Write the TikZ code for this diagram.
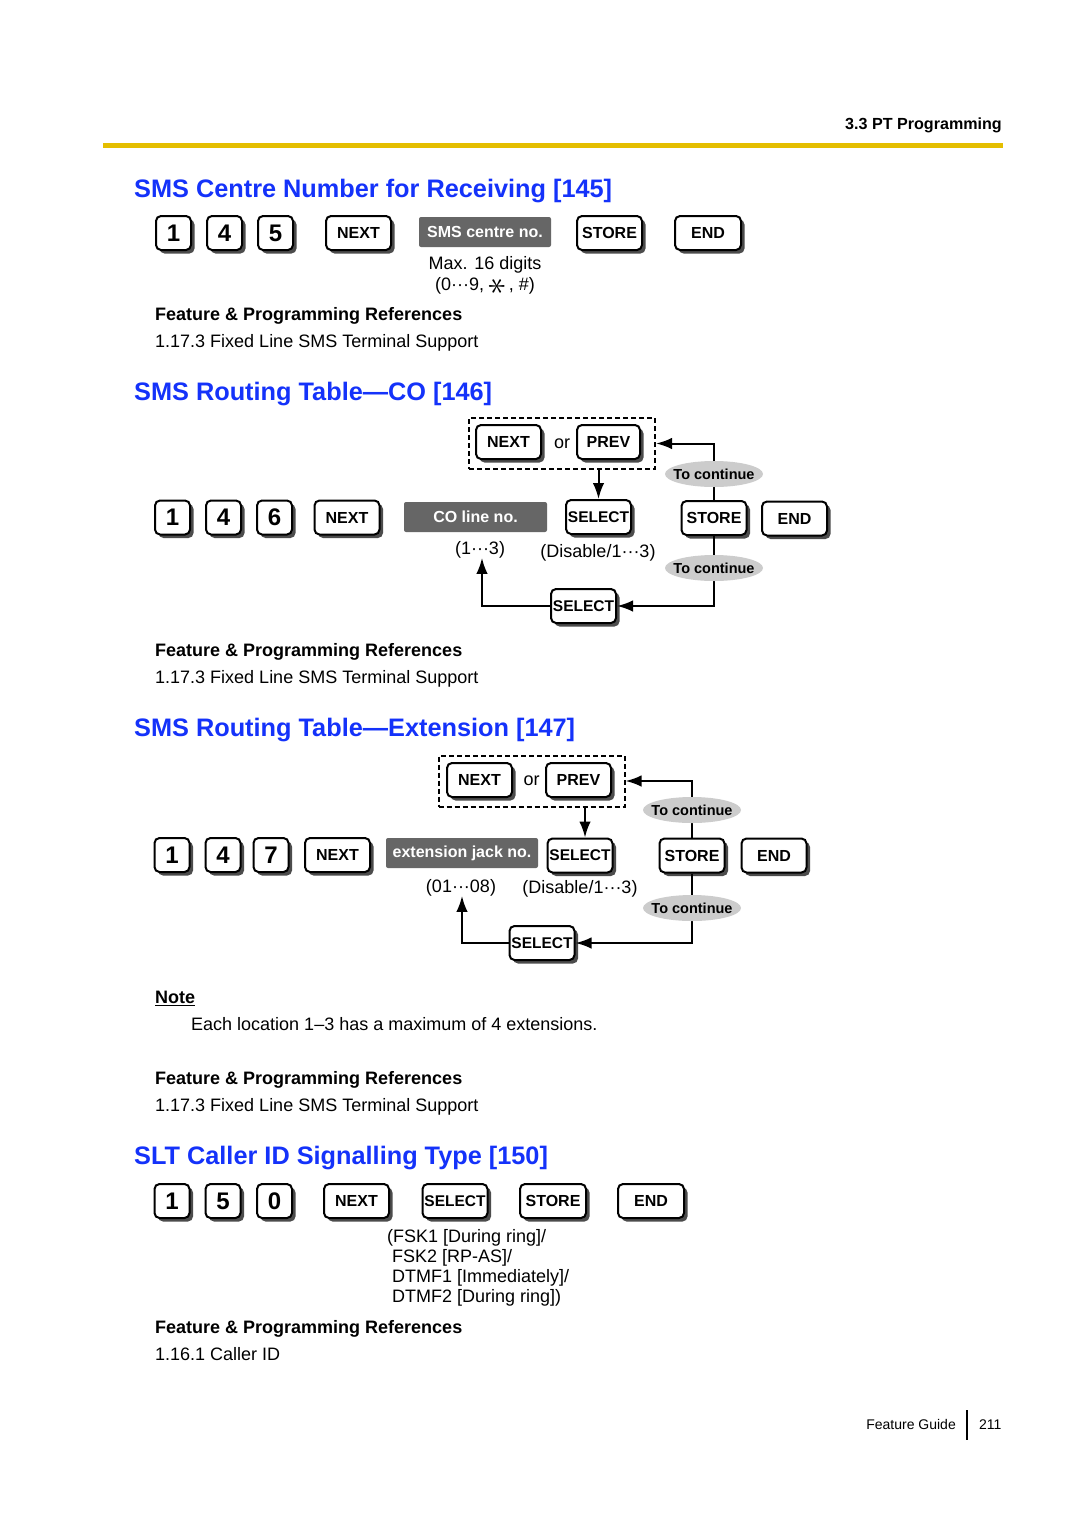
\documentclass[tikz,border=0pt]{standalone}
\usepackage{fontspec}
\setmainfont{Liberation Sans}
\usetikzlibrary{arrows.meta, shapes.geometric, shadows}
\definecolor{titleblue}{RGB}{20,50,250}
\definecolor{rulegold}{RGB}{228,190,0}
\newcommand{\fsz}[1]{\fontsize{#1}{#1}\selectfont}
\newcommand{\astkey}{\raisebox{-0.55ex}{\scalebox{2.1}{\rotatebox{90}{$\ast$}}}}

\begin{document}
\begin{tikzpicture}[x=1pt, y=-1pt, >={Latex[length=16pt,width=11.5pt]},
  key/.style={draw, line width=2pt, rounded corners=5pt, fill=white, inner sep=0pt,
    minimum height=34, minimum width=65, font=\bfseries\fsz{16},
    drop shadow={shadow xshift=3.5pt, shadow yshift=-3.5pt, opacity=1, fill=black!70}},
  digit/.style={key, minimum width=35, font=\bfseries\fsz{24}},
  entry/.style={fill=black!60, text=white, rounded corners=2pt, inner sep=0pt,
    minimum height=30, font=\bfseries\fsz{16}},
  alt/.style={draw, line width=2pt, dash pattern=on 5pt off 3pt, minimum width=186,
    minimum height=51, inner sep=0pt, font=\fsz{18}},
  cont/.style={ellipse, fill=black!20, minimum width=98, minimum height=26,
    inner xsep=-7pt, inner ysep=0pt, font=\bfseries\fsz{14.5}},
  flow/.style={line width=2pt},
  title/.style={anchor=base west, inner sep=0pt, text=titleblue, font=\bfseries\fsz{25.3}},
  head/.style={anchor=base west, inner sep=0pt, font=\bfseries\fsz{18}},
  body/.style={anchor=base west, inner sep=0pt, font=\fsz{18}},
  note/.style={anchor=base, font=\fsz{18}, inner sep=0pt}]

\useasboundingbox (0,0) rectangle (1080,1528);
\fill[white] (0,0) rectangle (1080,1528);

% page head
\node[anchor=base east, inner sep=0pt, font=\bfseries\fsz{16.1}] (sect) at (1002,129) {3.3 PT Programming};
\fill[rulegold] (103,143) rectangle (1003,147.5);

%%%%%%%%%% [145]
\node[title] (t145) at (134,197) {SMS Centre Number for Receiving [145]};

\node[digit] (k1a) at (173.5,233) {1};
\node[digit] (k4a) at (224.5,233) {4};
\node[digit] (k5a) at (275.5,233) {5};
\node[key] (nxa) at (358.5,233) {NEXT};
\node[entry, minimum width=132] (sms) at (485,232) {SMS centre no.};
\node[key] (sta) at (609.5,233) {STORE};
\node[key, minimum width=66] (enda) at (708,233) {END};
\node[note] (maxd) at (485,269.5) {Max. 16 digits};
\node[note] (rnga) at (485,290) {(0···9, \astkey\,, \#)};

\node[head] (fpa) at (155,320.5) {Feature \& Programming References};
\node[body] (refa) at (155,347.5) {1.17.3 Fixed Line SMS Terminal Support};

%%%%%%%%%% [146]
\node[title] (t146) at (134,400) {SMS Routing Table—CO [146]};

\node[alt] (altb) at (562,443.5) {or};
\node[key] (nxb2) at (508.5,442) {NEXT};
\node[key, minimum width=63] (pvb) at (608.5,442) {PREV};

\node[digit] (k1b) at (172.5,517.5) {1};
\node[digit] (k4b) at (223.5,517.5) {4};
\node[digit] (k6b) at (274.5,517.5) {6};
\node[key] (nxb) at (347,517.5) {NEXT};
\node[entry, minimum width=143] (coln) at (475.5,517) {CO line no.};
\node[key, font=\bfseries\fsz{15.5}] (selb) at (598.5,517) {SELECT};
\node[key] (stb) at (714,518) {STORE};
\node[key] (endb) at (794.5,518.5) {END};
\node[note] (rngb) at (480,554) {(1···3)};
\node[note] (disb) at (598,557) {(Disable/1···3)};
\node[key, font=\bfseries\fsz{15.5}] (selb2) at (583.5,606) {SELECT};

\draw[flow, ->] (stb.north) |- (altb.east);
\draw[flow, ->] (altb.south -| selb.north) -- (selb.north);
\draw[flow, ->] (stb.south) |- (selb2.east);
\draw[flow, ->] (selb2.west) -| ([xshift=2pt]rngb.south);
\node[cont] (cb1) at (714,474) {To continue};
\node[cont] (cb2) at (714,568) {To continue};

\node[head] (fpb) at (155,656.5) {Feature \& Programming References};
\node[body] (refb) at (155,683.5) {1.17.3 Fixed Line SMS Terminal Support};

%%%%%%%%%% [147]
\node[title] (t147) at (134,736) {SMS Routing Table—Extension [147]};

\node[alt] (altc) at (531.5,781) {or};
\node[key] (nxc2) at (479.5,780) {NEXT};
\node[key] (pvc) at (578.5,780) {PREV};

\node[digit] (k1c) at (172,855) {1};
\node[digit] (k4c) at (223,855) {4};
\node[digit] (k7c) at (271,855) {7};
\node[key] (nxc) at (337.5,855) {NEXT};
\node[entry, minimum width=152] (extn) at (462,853) {extension jack no.};
\node[key, font=\bfseries\fsz{15.5}] (selc) at (580,855.5) {SELECT};
\node[key] (stc) at (692,855.5) {STORE};
\node[key] (endc) at (774,855.5) {END};
\node[note] (rngc) at (461,892) {(01···08)};
\node[note] (disc) at (580,893) {(Disable/1···3)};
\node[key, font=\bfseries\fsz{15.5}] (selc2) at (542,943) {SELECT};

\draw[flow, ->] (stc.north) |- (altc.east);
\draw[flow, ->] ([xshift=5pt]altc.south -| selc.north) -- ([xshift=5pt]selc.north);
\draw[flow, ->] (stc.south) |- (selc2.east);
\draw[flow, ->] (selc2.west) -| ([xshift=1pt]rngc.south);
\node[cont] (cc1) at (692,810) {To continue};
\node[cont] (cc2) at (692,908) {To continue};

\node[head] (notehd) at (155,1003.5) {\underline{Note}};
\node[body] (notetx) at (191,1030.5) {Each location 1–3 has a maximum of 4 extensions.};

\node[head] (fpc) at (155,1084.5) {Feature \& Programming References};
\node[body] (refc) at (155,1111.5) {1.17.3 Fixed Line SMS Terminal Support};

%%%%%%%%%% [150]
\node[title] (t150) at (134,1164) {SLT Caller ID Signalling Type [150]};

\node[digit] (k1d) at (172,1201) {1};
\node[digit] (k5d) at (223,1201) {5};
\node[digit] (k0d) at (274.5,1201) {0};
\node[key] (nxd) at (356.5,1201) {NEXT};
\node[key, font=\bfseries\fsz{15.5}] (seld) at (455,1201) {SELECT};
\node[key, minimum width=66] (std) at (553,1201) {STORE};
\node[key, minimum width=66] (endd) at (651,1201) {END};
\node[body, align=left, font=\fontsize{18}{20}\selectfont] (sigs) at (387,1302.5)
  {(FSK1 [During ring]/\\
   \hspace*{5pt}FSK2 [RP-AS]/\\
   \hspace*{5pt}DTMF1 [Immediately]/\\
   \hspace*{5pt}DTMF2 [During ring])};

\node[head] (fpd) at (155,1333.5) {Feature \& Programming References};
\node[body] (refd) at (155,1360.5) {1.16.1 Caller ID};

% page foot
\node[anchor=base east, inner sep=0pt, font=\fsz{14}] (guide) at (956,1429) {Feature Guide};
\node[anchor=base west, inner sep=0pt, font=\fsz{14}] (pgno) at (979,1429) {211};
\draw[line width=1.2pt] (967,1410) -- (967,1440);

\end{tikzpicture}
\end{document}
